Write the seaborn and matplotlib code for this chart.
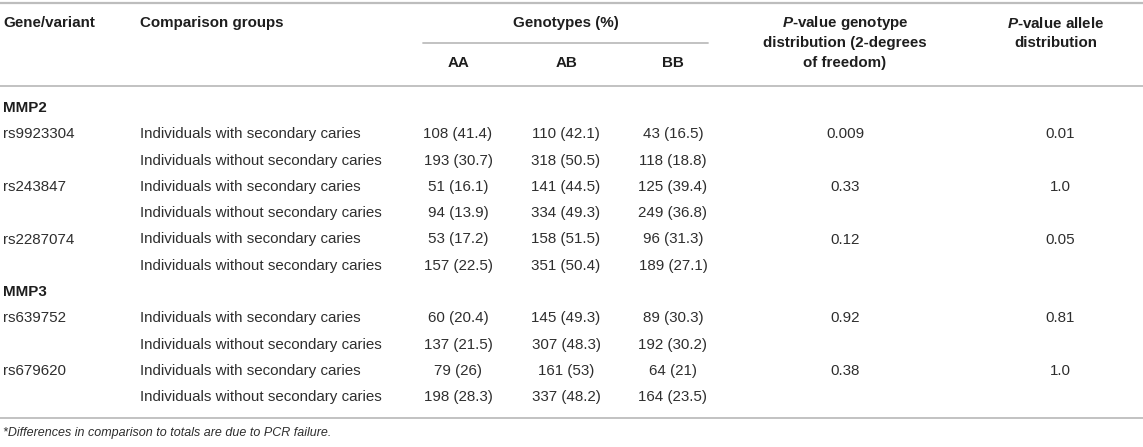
import matplotlib
matplotlib.use("Agg")
import matplotlib.pyplot as plt
import seaborn as sns

# table content
genes = ["MMP2", "MMP3"]
variants = [["rs9923304", "rs243847", "rs2287074"], ["rs639752", "rs679620"]]
groups = ["Individuals with secondary caries", "Individuals without secondary caries"]

aa_n = [108, 193, 51, 94, 53, 157, 60, 137, 79, 198]
aa_pct = ["41.4", "30.7", "16.1", "13.9", "17.2", "22.5", "20.4", "21.5", "26", "28.3"]
ab_n = [110, 318, 141, 334, 158, 351, 145, 307, 161, 337]
ab_pct = ["42.1", "50.5", "44.5", "49.3", "51.5", "50.4", "49.3", "48.3", "53", "48.2"]
bb_n = [43, 118, 125, 249, 96, 189, 89, 192, 64, 164]
bb_pct = ["16.5", "18.8", "39.4", "36.8", "31.3", "27.1", "30.3", "30.2", "21", "23.5"]

p_genotype = ["0.009", "0.33", "0.12", "0.92", "0.38"]
p_allele = ["0.01", "1.0", "0.05", "0.81", "1.0"]

footnote = "*Differences in comparison to totals are due to PCR failure."

sns.set_theme(style="white")
plt.rcParams["font.family"] = ["Liberation Sans", "DejaVu Sans"]
plt.rcParams["mathtext.fontset"] = "custom"
plt.rcParams["mathtext.bfit"] = "Liberation Sans:italic:bold"

W, H = 1143, 447
fig = plt.figure(figsize=(W / 100, H / 100), dpi=100)
ax = fig.add_axes([0, 0, 1, 1])
ax.set_xlim(0, W)
ax.set_ylim(H, 0)
ax.axis("off")

fs = 10.9
head_col = "#1e1e1e"
body_col = "#2e2e2e"
line_col = "#bdbdbd"

x_gene = 3
x_group = 140
x_aa, x_ab, x_bb = 458, 566, 673
x_pg, x_pa = 845, 1060

# rules
ax.plot([0, W], [3, 3], color=line_col, lw=1.6)
ax.plot([423, 708], [43, 43], color=line_col, lw=1.3)
ax.plot([0, W], [86, 86], color=line_col, lw=1.3)
ax.plot([0, W], [418, 418], color=line_col, lw=1.3)

# header
hkw = dict(fontsize=fs, fontweight="bold", color=head_col, va="center")
ax.text(x_gene, 23, "Gene/variant", ha="left", **hkw)
ax.text(x_group, 23, "Comparison groups", ha="left", **hkw)
ax.text(566, 23, "Genotypes (%)", ha="center", **hkw)
ax.text(x_aa, 63, "AA", ha="center", **hkw)
ax.text(x_ab, 63, "AB", ha="center", **hkw)
ax.text(x_bb, 63, "BB", ha="center", **hkw)
ax.text(x_pg, 23, r"$\bfit{P}$" + "-value genotype", ha="center", **hkw)
ax.text(x_pg, 43, "distribution (2-degrees", ha="center", **hkw)
ax.text(x_pg, 63, "of freedom)", ha="center", **hkw)
ax.text(x_pa - 4, 23, r"$\bfit{P}$" + "-value allele", ha="center", **hkw)
ax.text(x_pa - 4, 43, "distribution", ha="center", **hkw)

# body
y0, step = 108, 26.3
bkw = dict(fontsize=fs, color=body_col, va="center")
line = 0
row = 0
var_i = 0
for g, vlist in zip(genes, variants):
    ax.text(x_gene, y0 + line * step, g, ha="left", fontsize=fs, fontweight="bold",
            color=head_col, va="center")
    line += 1
    for v in vlist:
        y = y0 + line * step
        ax.text(x_gene, y, v, ha="left", **bkw)
        ax.text(x_pg, y, p_genotype[var_i], ha="center", **bkw)
        ax.text(x_pa, y, p_allele[var_i], ha="center", **bkw)
        var_i += 1
        for grp in groups:
            y = y0 + line * step
            ax.text(x_group, y, grp, ha="left", **bkw)
            ax.text(x_aa, y, f"{aa_n[row]} ({aa_pct[row]})", ha="center", **bkw)
            ax.text(x_ab, y, f"{ab_n[row]} ({ab_pct[row]})", ha="center", **bkw)
            ax.text(x_bb, y, f"{bb_n[row]} ({bb_pct[row]})", ha="center", **bkw)
            row += 1
            line += 1

ax.text(x_gene, 433, footnote, ha="left", va="center", fontsize=9.0,
        style="italic", color=body_col)

fig.savefig("out.png", dpi=100)
